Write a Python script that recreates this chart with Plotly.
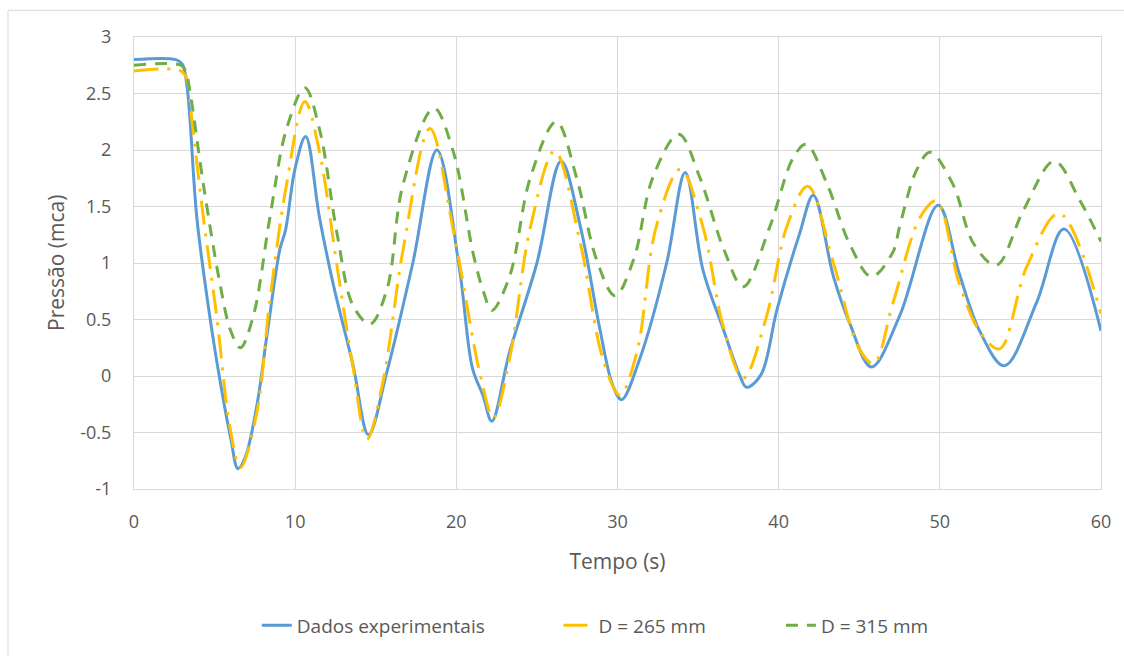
import plotly.graph_objects as go

# ---- data ----
t_exp = [0, 2.6, 3.0, 3.3, 3.9, 4.7, 5.35, 6.0, 6.45, 6.9, 7.6, 8.25, 9.05, 9.4, 10.0, 10.65,
         11.5, 12.35, 13.6, 14.55, 15.7, 17.3, 18.8, 20.2, 21.0, 21.65, 22.2, 23.3, 25.0, 26.5,
         27.7, 28.9, 29.7, 30.25, 31.4, 33.05, 34.2, 35.3, 36.55, 37.6, 38.0, 38.9, 39.9, 41.3,
         42.15, 43.4, 44.4, 45.75, 47.5, 49.9, 51.2, 52.5, 54.0, 56.0, 57.7, 60]
p_exp = [2.8, 2.8, 2.76, 2.55, 1.40, 0.53, -0.05, -0.55, -0.82, -0.72, -0.28, 0.36, 1.12, 1.29, 1.84, 2.12,
         1.41, 0.82, 0.09, -0.52, 0.04, 1.0, 2.0, 0.94, 0.07, -0.17, -0.40, 0.21, 1.0, 1.90,
         1.32, 0.42, -0.08, -0.21, 0.16, 1.0, 1.80, 0.94, 0.42, 0.0, -0.10, 0.01, 0.59, 1.26,
         1.60, 0.88, 0.47, 0.08, 0.53, 1.51, 0.91, 0.39, 0.09, 0.65, 1.30, 0.40]

t_265 = [0, 2.9, 3.3, 3.58, 4.3, 5.13, 5.96, 6.6, 7.6, 8.44, 9.47, 10.6, 11.5, 12.6, 13.6, 14.45,
         15.45, 16.7, 18.36, 19.8, 21.5, 22.3, 23.3, 24.6, 26.1, 27.7, 29.1, 30.15, 31.2, 32.4,
         33.9, 35.3, 36.56, 37.8, 39.25, 40.5, 41.8, 43.4, 45.0, 45.9, 47.1, 48.8, 49.8, 51.2,
         52.5, 53.7, 55.4, 57.4, 60]
p_265 = [2.7, 2.7, 2.62, 2.28, 1.41, 0.53, -0.46, -0.81, -0.34, 0.68, 1.70, 2.43, 1.99, 0.97, 0.07, -0.56,
         -0.05, 1.12, 2.19, 1.30, 0.0, -0.37, 0.15, 1.32, 1.99, 1.17, 0.15, -0.17, 0.21, 1.32,
         1.83, 1.32, 0.44, -0.02, 0.53, 1.32, 1.68, 1.0, 0.24, 0.11, 0.65, 1.41, 1.55, 0.82,
         0.39, 0.24, 0.97, 1.44, 0.55]

t_315 = [0, 2.9, 3.2, 3.47, 4.3, 5.33, 6.0, 6.6, 7.4, 8.44, 9.47, 10.6, 11.5, 12.6, 13.6, 14.65,
         15.7, 16.7, 18.6, 19.8, 21.05, 21.7, 22.2, 23.3, 24.6, 26.2, 27.45, 28.7, 29.85, 31.0,
         32.2, 33.8, 35.1, 36.6, 37.8, 39.45, 40.9, 41.7, 43.0, 44.4, 45.75, 47.1, 47.5, 48.55,
         49.4, 50.8, 52.1, 53.5, 55.2, 57.1, 58.7, 60]
p_315 = [2.75, 2.75, 2.70, 2.52, 1.70, 0.82, 0.40, 0.25, 0.53, 1.41, 2.19, 2.55, 2.19, 1.26, 0.62, 0.46,
         0.77, 1.70, 2.37, 1.99, 1.08, 0.74, 0.58, 0.88, 1.76, 2.25, 1.76, 1.03, 0.71, 1.03,
         1.76, 2.14, 1.76, 1.12, 0.79, 1.32, 1.93, 2.05, 1.70, 1.17, 0.88, 1.10, 1.32, 1.82,
         1.98, 1.70, 1.17, 0.98, 1.47, 1.90, 1.55, 1.19]

series_names = ["Dados experimentais", "D = 265 mm", "D = 315 mm"]
x_ticks = [0, 10, 20, 30, 40, 50, 60]
y_ticks = [-1, -0.5, 0, 0.5, 1, 1.5, 2, 2.5, 3]
y_tick_text = ["-1", "-0.5", "0", "0.5", "1", "1.5", "2", "2.5", "3"]
x_title = "Tempo (s)"
y_title = "Pressão (mca)"

FONT = "Open Sans"
TXT = "#595959"
GRID = "#D9D9D9"

fig = go.Figure()
fig.add_trace(go.Scatter(x=t_exp, y=p_exp, name=series_names[0], mode="lines", legend="legend",
                         line=dict(color="#5B9BD5", width=3, shape="spline", smoothing=1.0)))
fig.add_trace(go.Scatter(x=t_265, y=p_265, name=series_names[1], mode="lines", legend="legend2",
                         line=dict(color="#FFC000", width=3, shape="spline", smoothing=1.0,
                                   dash="24px,9px,3px,9px")))
fig.add_trace(go.Scatter(x=t_315, y=p_315, name=series_names[2], mode="lines", legend="legend3",
                         line=dict(color="#70AD47", width=3, shape="spline", smoothing=1.0,
                                   dash="12px,9px")))

leg_common = dict(orientation="h", xanchor="left", y=-0.302, yanchor="middle",
                  font=dict(family=FONT, size=19, color=TXT), bgcolor="rgba(0,0,0,0)")

fig.update_layout(
    width=1124, height=656,
    margin=dict(l=134, r=23, t=37, b=162),
    paper_bgcolor="white", plot_bgcolor="white",
    font=dict(family=FONT, color=TXT, size=18),
    showlegend=True,
    legend=dict(x=0.127, **leg_common),
    legend2=dict(x=0.439, **leg_common),
    legend3=dict(x=0.669, **leg_common),
    xaxis=dict(range=[0, 60], tickvals=x_ticks, showgrid=True, gridcolor=GRID, gridwidth=1,
               zeroline=False, showline=True, linecolor=GRID, linewidth=1, mirror=True,
               ticks="", ticklabelstandoff=16, tickfont=dict(size=18, color=TXT),
               title=dict(text=x_title, font=dict(size=21, color=TXT), standoff=22)),
    yaxis=dict(range=[-1, 3], tickvals=y_ticks, ticktext=y_tick_text, showgrid=True,
               gridcolor=GRID, gridwidth=1,
               zeroline=False, showline=True, linecolor=GRID, linewidth=1, mirror=True,
               ticks="", ticklabelstandoff=18, tickfont=dict(size=18, color=TXT)),
    annotations=[
        dict(text=y_title, xref="paper", yref="paper", x=-0.0807, y=0.5, textangle=-90,
             xanchor="center", yanchor="middle", showarrow=False,
             font=dict(family=FONT, size=21, color=TXT)),
    ],
    shapes=[
        dict(type="line", xref="paper", yref="paper", x0=-0.1303, x1=1.03, y0=1.0591, y1=1.0591,
             line=dict(color=GRID, width=1)),
        dict(type="line", xref="paper", yref="paper", x0=-0.1303, x1=-0.1303, y0=1.0591, y1=-0.4,
             line=dict(color=GRID, width=1)),
    ],
)

fig.write_html("out.html")
